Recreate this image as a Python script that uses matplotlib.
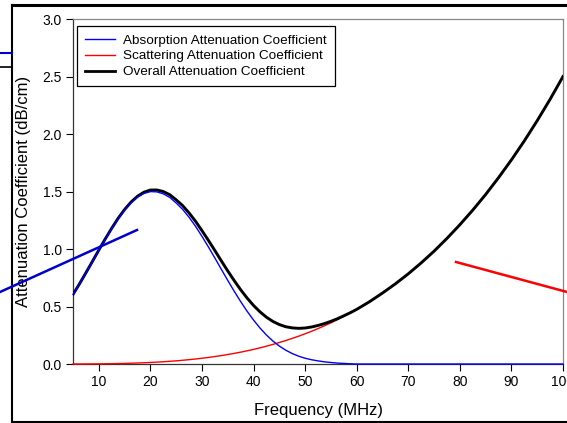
import numpy as np
import matplotlib
matplotlib.use("Agg")
import matplotlib.pyplot as plt
from matplotlib.lines import Line2D

plt.rcParams['font.family'] = ['Liberation Sans', 'DejaVu Sans']

freq = [5, 6.25, 7.5, 8.75, 10, 11.25, 12.5, 13.75, 15, 16.25, 17.5, 18.75,
        20, 21.25, 22.5, 23.75, 25, 26.25, 27.5, 28.75, 30, 31.25, 32.5, 33.75,
        35, 36.25, 37.5, 38.75, 40, 41.25, 42.5, 43.75, 45, 46.25, 47.5, 48.75,
        50, 51.25, 52.5, 53.75, 55, 56.25, 57.5, 58.75, 60, 62.5, 65, 67.5, 70,
        72.5, 75, 77.5, 80, 82.5, 85, 87.5, 90, 92.5, 95, 97.5, 100]
absorption = [0.605, 0.696, 0.792, 0.890, 0.989, 1.085, 1.177, 1.263, 1.338,
              1.401, 1.450, 1.483, 1.499, 1.497, 1.480, 1.449, 1.400, 1.345,
              1.276, 1.198, 1.110, 1.018, 0.922, 0.824, 0.727, 0.633, 0.543,
              0.459, 0.382, 0.313, 0.252, 0.200, 0.156, 0.120, 0.091, 0.068,
              0.050, 0.037, 0.027, 0.019, 0.013, 0.008, 0.005, 0.002, 0.0,
              0.0, 0.0, 0.0, 0.0, 0.0, 0.0, 0.0, 0.0, 0.0, 0.0, 0.0, 0.0, 0.0,
              0.0, 0.0, 0.0]
scattering = [0.0001, 0.0003, 0.0006, 0.0009, 0.0014, 0.0021, 0.0029, 0.0040,
              0.0052, 0.0068, 0.0087, 0.0108, 0.0134, 0.0163, 0.0196, 0.0234,
              0.0276, 0.0324, 0.0377, 0.0435, 0.050, 0.057, 0.065, 0.0732,
              0.0825, 0.0925, 0.103, 0.1148, 0.127, 0.1407, 0.155, 0.1703,
              0.187, 0.204, 0.223, 0.242, 0.263, 0.2848, 0.308, 0.3324, 0.358,
              0.3853, 0.414, 0.4438, 0.475, 0.542, 0.617, 0.697, 0.784, 0.879,
              0.981, 1.092, 1.211, 1.338, 1.474, 1.620, 1.775, 1.940, 2.116,
              2.302, 2.500]
overall = list(np.add(absorption, scattering))

labels = ["Absorption Attenuation Coefficient",
          "Scattering Attenuation Coefficient",
          "Overall Attenuation Coefficient"]
xticks = [10, 20, 30, 40, 50, 60, 70, 80, 90, 100]
yticks = [0.0, 0.5, 1.0, 1.5, 2.0, 2.5, 3.0]

W, H = 567, 423
fig = plt.figure(figsize=(W / 100, H / 100), dpi=100)
ax = fig.add_axes([73 / W, 1 - 364 / H, (563 - 73) / W, (364 - 19) / H])

ax.plot(freq, absorption, color='#0000ff', lw=1.0, label=labels[0],
        zorder=4, clip_on=False)
ax.plot(freq, scattering, color='#ff0000', lw=1.0, label=labels[1],
        zorder=2.8, clip_on=False)
ax.plot(freq, overall, color='black', lw=2.1, label=labels[2], zorder=3)

ax.set_xlim(5, 100)
ax.set_ylim(0, 3.0)
ax.set_xticks(xticks)
ax.set_yticks(yticks)
ax.set_yticklabels([f"{v:.1f}" for v in yticks])
ax.tick_params(direction='out', length=5, width=0.8, labelsize=10, pad=3)
for s in ['left', 'bottom']:
    ax.spines[s].set_color('#333333')
    ax.spines[s].set_linewidth(0.9)
for s in ['top', 'right']:
    ax.spines[s].set_color('#888888')
    ax.spines[s].set_linewidth(0.9)

ax.set_xlabel("Frequency (MHz)", fontsize=12, labelpad=10)
ax.set_ylabel("Attenuation Coefficient (dB/cm)", fontsize=12, labelpad=8)

leg = ax.legend(loc='upper left', bbox_to_anchor=(4 / 490, 1 - 7 / 345),
                borderaxespad=0, fancybox=False, edgecolor='black',
                fontsize=9.7, handlelength=2.2, handletextpad=0.6,
                labelspacing=0.26, borderpad=0.6, framealpha=1)
leg.get_frame().set_linewidth(0.9)
for h in leg.get_lines():
    h.set_linewidth(1.0 if h.get_color() != 'black' else 2.0)

def px_line(x0, y0, x1, y1, color, lw):
    fig.add_artist(Line2D([x0 / W, x1 / W], [1 - y0 / H, 1 - y1 / H],
                          transform=fig.transFigure, color=color, lw=lw,
                          clip_on=False, zorder=10))

# outer frame of the screenshot
px_line(12, 5, 567, 5, 'black', 2.2)
px_line(12, 5, 12, 423, 'black', 1.5)
px_line(12, 421.5, 567, 421.5, 'black', 1.5)
# stray annotation lines
px_line(0, 53, 12, 53, '#0000cc', 1.5)
px_line(0, 67, 12, 67, 'black', 1.2)
px_line(0, 292, 137, 230, '#0000cc', 1.8)
px_line(456, 262, 567, 292, '#ff0000', 1.8)

fig.savefig("out.png", dpi=100)
